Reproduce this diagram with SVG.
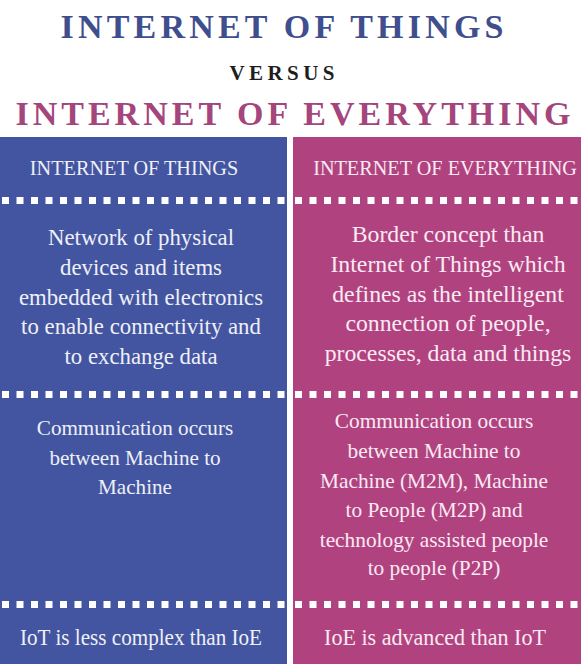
<svg xmlns="http://www.w3.org/2000/svg" width="581" height="664" viewBox="0 0 581 664">
<style>
.title{font-family:"Liberation Serif","Times New Roman",serif;font-weight:bold;text-anchor:middle}
.t{font-family:"Liberation Serif","Times New Roman",serif;text-anchor:middle}
.lt{fill:#eef0f7}
.rt{fill:#fbe9f3}
.dots{stroke:#ffffff;stroke-width:7;stroke-dasharray:7 7.5;fill:none}
</style>
<rect x="0" y="0" width="581" height="664" fill="#ffffff"/>
<g id="title">
<text class="title" x="282" y="38" font-size="34" fill="#3f4f8e" textLength="443" lengthAdjust="spacing">INTERNET OF THINGS</text>
<text class="title" x="282" y="80" font-size="21" fill="#1e1e1e" textLength="105" lengthAdjust="spacing">VERSUS</text>
<text class="title" x="293" y="125" font-size="34" fill="#a4457b" textLength="555" lengthAdjust="spacing">INTERNET OF EVERYTHING</text>
</g>
<g id="iot-panel">
<rect x="0" y="137" width="287" height="527" fill="#4355a1"/>
<g transform="translate(134 0) scale(0.92 1)"><text class="t lt" x="0" y="175" font-size="22">INTERNET OF THINGS</text></g>
</g>
<g id="ioe-panel">
<rect x="293" y="137" width="288" height="527" fill="#b0437f"/>
<g transform="translate(445 0) scale(0.92 1)"><text class="t rt" x="0" y="175" font-size="22">INTERNET OF EVERYTHING</text></g>
</g>
<g id="separators">
<line class="dots" x1="2" y1="200.5" x2="287" y2="200.5"/>
<line class="dots" x1="295" y1="200.5" x2="581" y2="200.5"/>
<line class="dots" x1="2" y1="394.5" x2="287" y2="394.5"/>
<line class="dots" x1="295" y1="394.5" x2="581" y2="394.5"/>
<line class="dots" x1="2" y1="604.5" x2="287" y2="604.5"/>
<line class="dots" x1="295" y1="604.5" x2="581" y2="604.5"/>
</g>
<g id="iot-definition" transform="translate(141 0) scale(0.95 1)">
<text class="t lt" font-size="24" x="0" y="245">Network of physical</text>
<text class="t lt" font-size="24" x="0" y="275">devices and items</text>
<text class="t lt" font-size="24" x="0" y="305">embedded with electronics</text>
<text class="t lt" font-size="24" x="0" y="334">to enable connectivity and</text>
<text class="t lt" font-size="24" x="0" y="364">to exchange data</text>
</g>
<g id="ioe-definition" transform="translate(448 0) scale(0.99 1)">
<text class="t rt" font-size="24" x="0" y="242">Border concept than</text>
<text class="t rt" font-size="24" x="0" y="272">Internet of Things which</text>
<text class="t rt" font-size="24" x="0" y="302">defines as the intelligent</text>
<text class="t rt" font-size="24" x="0" y="331">connection of people,</text>
<text class="t rt" font-size="24" x="0" y="361">processes, data and things</text>
</g>
<g id="iot-communication" transform="translate(135 0) scale(0.96 1)">
<text class="t lt" font-size="22" x="0" y="435">Communication occurs</text>
<text class="t lt" font-size="22" x="0" y="465">between Machine to</text>
<text class="t lt" font-size="22" x="0" y="494">Machine</text>
</g>
<g id="ioe-communication" transform="translate(434 0) scale(0.97 1)">
<text class="t rt" font-size="22" x="0" y="428">Communication occurs</text>
<text class="t rt" font-size="22" x="0" y="458">between Machine to</text>
<text class="t rt" font-size="22" x="0" y="488">Machine (M2M), Machine</text>
<text class="t rt" font-size="22" x="0" y="517">to People (M2P) and</text>
<text class="t rt" font-size="22" x="0" y="547">technology assisted people</text>
<text class="t rt" font-size="22" x="0" y="575">to people (P2P)</text>
</g>
<g id="iot-complexity" transform="translate(141 0) scale(0.92 1)">
<text class="t lt" font-size="23" x="0" y="645">IoT is less complex than IoE</text>
</g>
<g id="ioe-complexity" transform="translate(435 0) scale(0.96 1)">
<text class="t rt" font-size="23" x="0" y="645">IoE is advanced than IoT</text>
</g>
</svg>
